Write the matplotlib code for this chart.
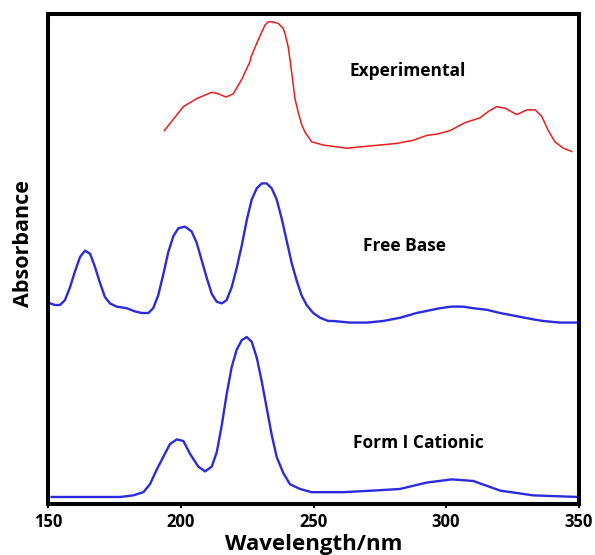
import matplotlib
matplotlib.use("Agg")
import matplotlib.pyplot as plt

plt.rcParams['font.family'] = ['Open Sans', 'DejaVu Sans']

# Espectro experimental (longitud de onda en nm, absorbancia en u.a.)
exp_nm = [193.7, 200.9, 205.9, 211.6, 214.1, 217.0, 219.7, 222.9, 226.0, 226.4,
          229.2, 231.7, 232.9, 234.5, 236.7, 238.5, 239.2, 240.5, 241.8, 243.0,
          244.3, 245.5, 246.8, 249.3, 253.7, 262.5, 275.1, 281.4, 287.7, 292.7,
          297.1, 301.5, 307.2, 312.8, 316.0, 319.1, 322.3, 326.7, 330.5, 333.6,
          336.1, 338.6, 341.1, 344.3, 347.4]
exp_abs = [2.29, 2.44, 2.49, 2.53, 2.52, 2.50, 2.52, 2.61, 2.72, 2.75,
           2.86, 2.95, 2.97, 2.97, 2.96, 2.93, 2.90, 2.81, 2.65, 2.49,
           2.40, 2.33, 2.28, 2.22, 2.20, 2.18, 2.20, 2.21, 2.23, 2.26,
           2.27, 2.29, 2.34, 2.37, 2.41, 2.44, 2.43, 2.39, 2.42, 2.42,
           2.38, 2.29, 2.22, 2.18, 2.16]

# Espectro calculado de la base libre
base_nm = [150.6, 152.5, 154.3, 156.2, 158.1, 160.0, 161.9, 163.8, 165.7, 167.5,
           169.4, 171.3, 173.2, 175.7, 179.5, 182.6, 185.2, 187.7, 189.5, 191.4,
           193.3, 195.2, 197.1, 199.0, 201.5, 204.0, 205.9, 207.8, 209.7, 211.6,
           213.5, 215.4, 217.2, 219.1, 221.0, 222.9, 224.8, 226.7, 228.6, 230.5,
           232.3, 234.2, 236.1, 238.0, 239.9, 241.8, 243.7, 245.5, 247.4, 249.9,
           252.5, 255.6, 257.5, 263.8, 270.1, 276.3, 282.6, 288.9, 297.7, 302.1,
           306.3, 310.3, 315.4, 320.4, 326.7, 333.0, 336.7, 343.0, 349.9]
base_abs = [1.21, 1.20, 1.20, 1.23, 1.31, 1.41, 1.50, 1.54, 1.52, 1.44,
            1.34, 1.25, 1.21, 1.19, 1.18, 1.16, 1.15, 1.15, 1.18, 1.26,
            1.39, 1.53, 1.63, 1.68, 1.69, 1.66, 1.59, 1.48, 1.37, 1.27,
            1.22, 1.21, 1.23, 1.31, 1.43, 1.57, 1.73, 1.86, 1.93, 1.96,
            1.96, 1.93, 1.86, 1.74, 1.60, 1.46, 1.35, 1.26, 1.20, 1.15,
            1.12, 1.10, 1.10, 1.09, 1.09, 1.10, 1.12, 1.15, 1.18, 1.19,
            1.19, 1.18, 1.17, 1.15, 1.13, 1.11, 1.10, 1.09, 1.09]

# Espectro calculado de la forma I catiónica
cat_nm = [151.2, 177.0, 182.0, 185.8, 188.3, 190.8, 193.3, 195.8, 198.4, 200.9,
          203.4, 206.5, 209.1, 211.6, 213.5, 215.4, 217.2, 219.1, 221.0, 222.9,
          224.8, 226.7, 228.6, 230.5, 232.3, 234.2, 236.1, 238.6, 241.1, 244.9,
          249.3, 255.0, 261.2, 272.6, 282.6, 292.7, 302.2, 310.3, 320.4, 332.9,
          349.9]
cat_abs = [0.00, 0.00, 0.01, 0.03, 0.08, 0.17, 0.25, 0.33, 0.36, 0.35,
           0.27, 0.19, 0.16, 0.19, 0.28, 0.45, 0.64, 0.81, 0.92, 0.98,
           1.00, 0.97, 0.87, 0.72, 0.56, 0.39, 0.25, 0.15, 0.08, 0.05,
           0.03, 0.03, 0.03, 0.04, 0.05, 0.09, 0.11, 0.10, 0.04, 0.01,
           0.00]

fig = plt.figure(figsize=(5.95, 5.55), dpi=100)
ax = fig.add_axes([0.0815, 0.091, 0.8908, 0.8829])

ax.plot(exp_nm, exp_abs, color='#ee1c1c', lw=1.1, solid_joinstyle='round')
ax.plot(base_nm, base_abs, color='#2b2bdc', lw=1.7, solid_joinstyle='round')
ax.plot(cat_nm, cat_abs, color='#2b2bdc', lw=1.7, solid_joinstyle='round')

# Etiquetas de cada espectro
ax.text(285.5, 2.66, 'Experimental', fontsize=12.5, fontweight='bold', ha='center', va='center')
ax.text(284.5, 1.57, 'Free Base', fontsize=12.5, fontweight='bold', ha='center', va='center')
ax.text(289.4, 0.34, 'Form I Cationic', fontsize=12.5, fontweight='bold', ha='center', va='center')

ax.set_xlim(150, 350)
ax.set_ylim(-0.047, 3.016)
ax.set_xticks([150, 200, 250, 300, 350])
ax.set_yticks([])
ax.tick_params(axis='x', length=3, width=1.5, pad=3, labelsize=12)
for lbl in ax.get_xticklabels():
    lbl.set_fontweight('bold')
for s in ax.spines.values():
    s.set_linewidth(2.9)

ax.set_xlabel('Wavelength/nm', fontsize=16, fontweight='bold', labelpad=2)
ax.set_ylabel('Absorbance', fontsize=15.5, fontweight='bold')
ax.yaxis.set_label_coords(-0.027, 0.532)

fig.savefig('out.png', dpi=100)
